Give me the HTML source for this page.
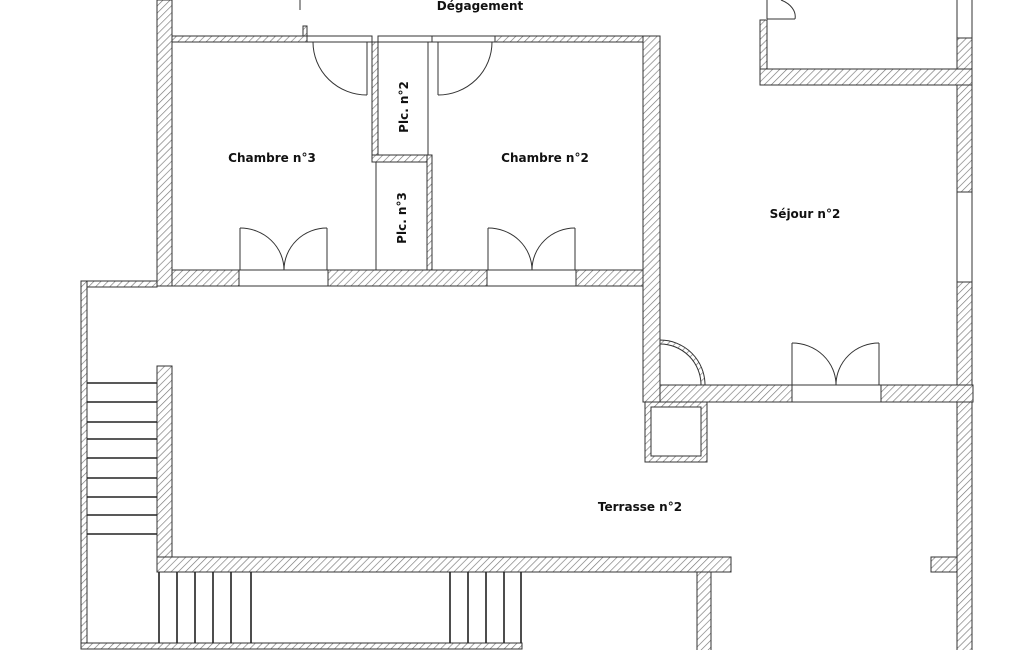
<!DOCTYPE html>
<html><head><meta charset="utf-8"><style>
html,body{margin:0;padding:0;background:#fff;}
svg{display:block;}
text{font-family:"DejaVu Sans","Liberation Sans",sans-serif;font-weight:bold;font-size:12px;fill:#111;}
</style></head><body>
<svg width="1025" height="650" viewBox="0 0 1025 650" xmlns="http://www.w3.org/2000/svg">
<defs>
<pattern id="h" width="5" height="5" patternUnits="userSpaceOnUse" patternTransform="rotate(45)">
<rect width="5" height="5" fill="#fff"/>
<line x1="0" y1="0" x2="0" y2="5" stroke="#777" stroke-width="1.3"/>
</pattern>
</defs>
<rect width="1025" height="650" fill="#fff"/>
<g fill="url(#h)" stroke="#333" stroke-width="1">
<rect x="157" y="0" width="15" height="286"/>
<rect x="172" y="36" width="135" height="6"/>
<rect x="303" y="26" width="4" height="10"/>
<rect x="495" y="36" width="165" height="6"/>
<rect x="643" y="36" width="17" height="366"/>
<rect x="372" y="42" width="6" height="120"/>
<rect x="372" y="155" width="60" height="7"/>
<rect x="427" y="155" width="5" height="115"/>
<rect x="172" y="270" width="471" height="16"/>
<rect x="81" y="281" width="76" height="6"/>
<rect x="81" y="281" width="6" height="367"/>
<rect x="81" y="643" width="441" height="6"/>
<rect x="157" y="366" width="15" height="206"/>
<rect x="157" y="557" width="574" height="15"/>
<rect x="697" y="572" width="14" height="80"/>
<rect x="931" y="557" width="26" height="15"/>
<rect x="957" y="282" width="15" height="370"/>
<rect x="957" y="38" width="15" height="154"/>
<rect x="760" y="69" width="212" height="16"/>
<rect x="760" y="20" width="7" height="49"/>
<rect x="660" y="385" width="313" height="17"/>
<rect x="645" y="402" width="62" height="60"/>
<path d="M660,340 A45,45 0 0 1 705,385 L701,385 A41,41 0 0 0 660,344 Z"/>
</g>
<g fill="#fff" stroke="#333" stroke-width="1">
<rect x="651" y="407" width="50" height="49"/>
<rect x="307" y="36" width="65" height="6"/>
<rect x="378" y="36" width="54" height="6"/>
<rect x="432" y="36" width="63" height="6"/>
<rect x="239" y="270" width="89" height="16"/>
<rect x="487" y="270" width="89" height="16"/>
<rect x="792" y="385" width="89" height="17"/>
<rect x="957" y="192" width="15" height="90"/>
<rect x="957" y="-1" width="15" height="39"/>
</g>
<g fill="none" stroke="#333" stroke-width="1">
<line x1="428" y1="42" x2="428" y2="155"/>
<line x1="376" y1="162" x2="376" y2="270"/>
<line x1="300" y1="0" x2="300" y2="10"/>
<line x1="367" y1="42" x2="367" y2="95"/>
<path d="M313,42 A54,53 0 0 0 367,95"/>
<line x1="438" y1="42" x2="438" y2="95"/>
<path d="M438,95 A54,53 0 0 0 492,42"/>
<line x1="240" y1="228" x2="240" y2="270"/>
<line x1="327" y1="228" x2="327" y2="270"/>
<path d="M240,228 A44,42 0 0 1 284,270"/>
<path d="M327,228 A43,42 0 0 0 284,270"/>
<line x1="488" y1="228" x2="488" y2="270"/>
<line x1="575" y1="228" x2="575" y2="270"/>
<path d="M488,228 A44,42 0 0 1 532,270"/>
<path d="M575,228 A43,42 0 0 0 532,270"/>
<line x1="792" y1="343" x2="792" y2="385"/>
<line x1="879" y1="343" x2="879" y2="385"/>
<path d="M792,343 A44,42 0 0 1 836,385"/>
<path d="M879,343 A43,42 0 0 0 836,385"/>
<line x1="767" y1="0" x2="767" y2="19"/>
<line x1="767" y1="19" x2="795" y2="19"/>
<path d="M781,0 A28,19 0 0 1 795,19"/>
<g stroke="#222" stroke-width="1.6">
<line x1="87" y1="383" x2="157" y2="383"/>
<line x1="87" y1="402" x2="157" y2="402"/>
<line x1="87" y1="422" x2="157" y2="422"/>
<line x1="87" y1="439" x2="157" y2="439"/>
<line x1="87" y1="458" x2="157" y2="458"/>
<line x1="87" y1="478" x2="157" y2="478"/>
<line x1="87" y1="497" x2="157" y2="497"/>
<line x1="87" y1="515" x2="157" y2="515"/>
<line x1="87" y1="534" x2="157" y2="534"/>
<line x1="159" y1="572" x2="159" y2="643"/>
<line x1="177" y1="572" x2="177" y2="643"/>
<line x1="195" y1="572" x2="195" y2="643"/>
<line x1="213" y1="572" x2="213" y2="643"/>
<line x1="231" y1="572" x2="231" y2="643"/>
<line x1="251" y1="572" x2="251" y2="643"/>
<line x1="450" y1="572" x2="450" y2="643"/>
<line x1="468" y1="572" x2="468" y2="643"/>
<line x1="486" y1="572" x2="486" y2="643"/>
<line x1="504" y1="572" x2="504" y2="643"/>
<line x1="521" y1="572" x2="521" y2="643"/>
</g>
</g>
<text x="480" y="10" text-anchor="middle">Dégagement</text>
<text x="272" y="162" text-anchor="middle">Chambre n°3</text>
<text x="545" y="162" text-anchor="middle">Chambre n°2</text>
<text x="805" y="218" text-anchor="middle">Séjour n°2</text>
<text x="640" y="511" text-anchor="middle">Terrasse n°2</text>
<text transform="translate(408,107) rotate(-90)" text-anchor="middle">Plc. n°2</text>
<text transform="translate(406,218) rotate(-90)" text-anchor="middle">Plc. n°3</text>
</svg>
</body></html>
